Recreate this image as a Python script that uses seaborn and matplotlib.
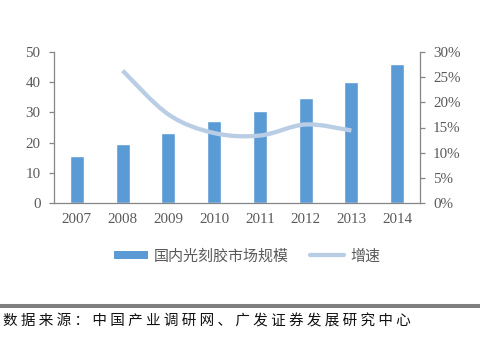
import matplotlib
matplotlib.use("Agg")
import matplotlib.pyplot as plt
import seaborn as sns
import numpy as np
import pandas as pd
from matplotlib.path import Path
from matplotlib.patches import PathPatch
from matplotlib.lines import Line2D
from matplotlib.patches import Patch

years = ["2007", "2008", "2009", "2010", "2011", "2012", "2013", "2014"]
market_size = [15.5, 19.7, 23.3, 27.0, 30.3, 34.8, 40.2, 46.0]
growth_years = ["2008", "2009", "2010", "2011", "2012", "2013"]
growth_pct = [26.3, 17.6, 13.9, 13.4, 15.6, 14.4]
left_ticks = [0, 10, 20, 30, 40, 50]
right_ticks = [0, 5, 10, 15, 20, 25, 30]
bar_label = "国内光刻胶市场规模"
line_label = "增速"
source_text = "数据来源：中国产业调研网、广发证券发展研究中心"

sns.set_theme(style="white")
plt.rcParams['font.family'] = ['Liberation Serif', 'Noto Sans CJK SC', 'DejaVu Sans']

BAR = "#5B9BD5"
LINE = "#B9CDE5"
TXT = "#595959"
AX = "#868686"
FS = 10.8

fig = plt.figure(figsize=(4.8, 3.42), dpi=100)
ax = fig.add_axes([54/480, 1-203/342, (420-54)/480, (203-52)/342])

df = pd.DataFrame({"year": years, "size": market_size})
sns.barplot(data=df, x="year", y="size", color=BAR, saturation=1, width=0.31, ax=ax)
ax.set_xlim(-0.5, 7.5)
ax.set_ylim(0, 50)
ax.set_yticks(left_ticks)
ax.set_xlabel("")
ax.set_ylabel("")
for s in ["top", "right"]:
    ax.spines[s].set_visible(False)
for s in ["left", "bottom"]:
    ax.spines[s].set_color(AX)
    ax.spines[s].set_linewidth(0.9)
ax.set_xticks(np.arange(-0.5, 8, 1), minor=True)
ax.tick_params(axis="x", which="major", length=0, labelsize=FS, labelcolor=TXT, pad=7.5)
ax.tick_params(axis="x", which="minor", length=3.8, color=AX, width=0.9, direction="out")
ax.tick_params(axis="y", length=3.8, color=AX, width=0.9, direction="out", labelsize=FS,
               labelcolor=TXT, pad=6, left=True)

ax2 = ax.twinx()
ax2.set_ylim(0, 30)
ax2.set_yticks(right_ticks)
ax2.set_yticklabels([f"{v}%" for v in right_ticks])
for s in ["top", "left", "bottom"]:
    ax2.spines[s].set_visible(False)
ax2.spines["right"].set_color(AX)
ax2.spines["right"].set_linewidth(0.9)
ax2.tick_params(axis="y", length=3.8, color=AX, width=0.9, direction="out", labelsize=FS,
                labelcolor=TXT, pad=5.5, right=True)
ax2.grid(False)

# smoothed line (Excel-style bezier through data points)
xs = [years.index(y) for y in growth_years]
ys = growth_pct
n = len(xs)
verts = [(xs[0], ys[0])]
codes = [Path.MOVETO]
for i in range(n - 1):
    x0, y0 = xs[max(i - 1, 0)], ys[max(i - 1, 0)]
    x1, y1 = xs[i], ys[i]
    x2, y2 = xs[i + 1], ys[i + 1]
    x3, y3 = xs[min(i + 2, n - 1)], ys[min(i + 2, n - 1)]
    c1 = (x1 + (x2 - x0) / 6, y1 + (y2 - y0) / 6)
    c2 = (x2 - (x3 - x1) / 6, y2 - (y3 - y1) / 6)
    verts += [c1, c2, (x2, y2)]
    codes += [Path.CURVE4] * 3
patch = PathPatch(Path(verts, codes), facecolor="none", edgecolor=LINE, lw=3.1,
                  capstyle="butt", zorder=5)
ax2.add_patch(patch)

handles = [Patch(facecolor=BAR, edgecolor="none"), Line2D([0], [0], color=LINE, lw=3.1)]
fig.legend(handles, [bar_label, line_label], loc="center", bbox_to_anchor=(247/480, 1-256/342),
           ncol=2, frameon=False, labelcolor=TXT, handlelength=2.25, handleheight=0.5,
           handletextpad=0.4, columnspacing=1.45,
           prop={"family": ["Noto Sans CJK SC"], "size": 10.8})

fig.add_artist(Line2D([0, 1], [1-306/342, 1-306/342], color="#7F7F7F", lw=2.9,
                      transform=fig.transFigure))
fig.text(3/480, 1-321.5/342, " ".join(source_text), fontsize=10.5, color="#111111",
         va="center", ha="left", family=["Noto Sans CJK SC"])

fig.savefig("out.png", dpi=100)
